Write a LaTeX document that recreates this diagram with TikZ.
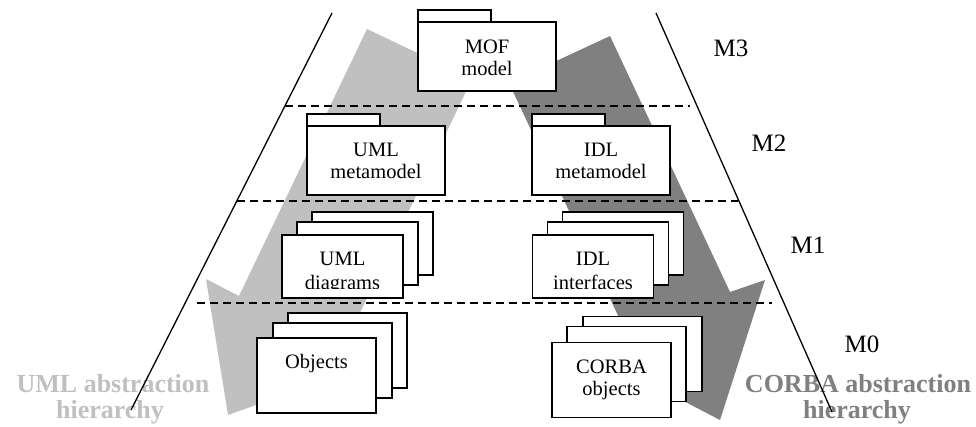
\documentclass[tikz,border=0pt]{standalone}
\usepackage{fontspec}
\setmainfont{Liberation Serif}
\definecolor{lightarr}{HTML}{C0C0C0}
\definecolor{darkarr}{HTML}{808080}
\begin{document}
\begin{tikzpicture}[x=1pt,y=-1pt,
  box/.style={draw=black, line width=1.8pt, fill=white, inner sep=0pt, outer sep=0pt},
  pkgtab/.style={box, minimum width=73pt, minimum height=12pt},
  pkgbody/.style={box, minimum width=138pt, minimum height=69pt},
  sheet/.style={box, minimum width=121pt, minimum height=63pt},
  objsheet/.style={box, minimum width=119pt, minimum height=75pt},
  txt/.style={anchor=base, inner sep=0pt, font=\fontsize{20.5pt}{23pt}\selectfont},
  mlab/.style={anchor=base, inner sep=0pt, font=\fontsize{25pt}{28pt}\selectfont},
  glab/.style={anchor=base, inner sep=0pt, font=\fontsize{26pt}{28pt}\selectfont\bfseries},
  bound/.style={draw=black, line width=1.3pt},
  level/.style={draw=black, line width=1.6pt, dash pattern=on 8pt off 5pt}]
\useasboundingbox (0,0) rectangle (976,426);

% big abstraction arrows
\fill[lightarr] (367,29) -- (472,79) -- (344,346) -- (377,362) -- (228,415) -- (206,279) -- (239,296) -- cycle;
\fill[darkarr] (610,36) -- (730,292) -- (765,280) -- (720,420) -- (595,355) -- (629,339) -- (509,83) -- cycle;

% hierarchy labels
\node[glab, text=lightarr] (umlh1) at (113,392) {UML abstraction};
\node[glab, text=lightarr] (umlh2) at (110,418) {hierarchy};
\node[glab, text=darkarr] (corh1) at (858,392) {CORBA abstraction};
\node[glab, text=darkarr] (corh2) at (857,418) {hierarchy};

% boundary lines
\coordinate (lt) at (332,13); \coordinate (lb) at (131,410);
\coordinate (rt) at (656,13); \coordinate (rb) at (832,412);
\draw[bound] (lt) -- (lb);
\draw[bound] (rt) -- (rb);

% level separators
\coordinate (d1l) at (285,106); \coordinate (d1r) at (690,106);
\coordinate (d2l) at (237,201); \coordinate (d2r) at (738,201);
\coordinate (d3l) at (197,303); \coordinate (d3r) at (772,303);
\draw[level] (d1l) -- (d1r);
\draw[level] (d2l) -- (d2r);
\draw[level] (d3l) -- (d3r);

% M3: MOF model
\node[pkgtab] (moftab) at (454.5,16) {};
\node[pkgbody] (mof) at (487,56.5) {};
\node[txt] (mof1) at (487,53) {MOF};
\node[txt] (mof2) at (487,75) {model};

% M2: metamodels
\node[pkgtab] (umlmtab) at (343.5,120) {};
\node[pkgbody] (umlm) at (376,160.5) {};
\node[txt] (umlm1) at (376,156) {UML};
\node[txt] (umlm2) at (376,178) {metamodel};

\node[pkgtab] (idlmtab) at (568.5,120) {};
\node[pkgbody] (idlm) at (601,160.5) {};
\node[txt] (idlm1) at (601,156) {IDL};
\node[txt] (idlm2) at (601,178) {metamodel};

% M1: diagrams / interfaces
\node[sheet] (umld3) at (372.5,243.5) {};
\node[sheet] (umld2) at (357.5,253.5) {};
\node[sheet] (umld1) at (342.5,266.5) {};
\begin{scope}
  \clip (282,235) rectangle (403,288);
  \node[txt] (umld1a) at (342.5,265) {UML};
  \node[txt] (umld1b) at (342.5,289.5) {diagrams};
\end{scope}

\node[sheet] (idli3) at (623,243.5) {};
\node[sheet] (idli2) at (608,253.5) {};
\node[sheet] (idli1) at (593,266.5) {};
\begin{scope}
  \clip (532,235) rectangle (654,288);
  \node[txt] (idli1a) at (593,265) {IDL};
  \node[txt] (idli1b) at (593,289.5) {interfaces};
\end{scope}

% M0: objects
\node[objsheet] (obj3) at (347.5,350.5) {};
\node[objsheet] (obj2) at (332.5,360.5) {};
\node[objsheet] (obj1) at (316.5,375.5) {};
\node[txt] (obj1a) at (316.5,368) {Objects};

\node[objsheet] (cob3) at (642.5,354) {};
\node[objsheet] (cob2) at (626.5,364) {};
\node[objsheet] (cob1) at (611.5,380) {};
\node[txt] (cob1a) at (611.5,373) {CORBA};
\node[txt] (cob1b) at (611.5,395) {objects};

% level labels
\node[mlab] (m3) at (731,56) {M3};
\node[mlab] (m2) at (769,151) {M2};
\node[mlab] (m1) at (808,253) {M1};
\node[mlab] (m0) at (862,352) {M0};
\end{tikzpicture}
\end{document}
